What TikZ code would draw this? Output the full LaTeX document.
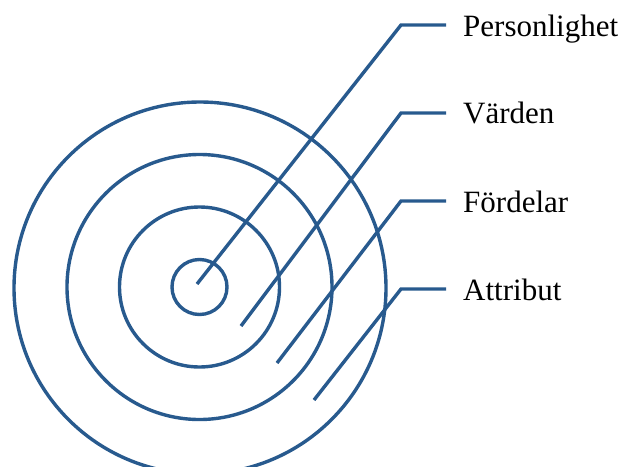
\documentclass[tikz,border=0pt]{standalone}
\usepackage{fontspec}
\setmainfont{Liberation Serif}
\definecolor{ringblue}{RGB}{40,90,142}
\begin{document}
\begin{tikzpicture}[x=1pt,y=-1pt,
  ring/.style={draw=ringblue,line width=3.4pt},
  leader/.style={draw=ringblue,line width=3.4pt},
  lbl/.style={anchor=base west,inner sep=0pt,font=\fontsize{31}{36}\selectfont}]
\useasboundingbox (0,0) rectangle (623,466);
\begin{scope}
\clip (0,0) rectangle (623,466);
\node[ring,circle,minimum size=55pt,inner sep=0pt] (c1) at (199.5,287) {};
\node[ring,circle,minimum size=160pt,inner sep=0pt] (c2) at (199.5,287) {};
\node[ring,circle,minimum size=265pt,inner sep=0pt] (c3) at (199.5,287) {};
\node[ring,circle,minimum size=372pt,inner sep=0pt] (c4) at (200,288) {};
\end{scope}
\node[lbl] (l1) at (463,36) {Personlighet};
\node[lbl] (l2) at (463,123) {Värden};
\node[lbl] (l3) at (463,212) {Fördelar};
\node[lbl] (l4) at (463,300) {Attribut};
\coordinate (s1) at (197,284); \coordinate (b1) at (401,25); \coordinate (e1) at (446,25);
\coordinate (s2) at (241,326); \coordinate (b2) at (401,113); \coordinate (e2) at (446,113);
\coordinate (s3) at (277,363); \coordinate (b3) at (401,201); \coordinate (e3) at (446,201);
\coordinate (s4) at (314,400); \coordinate (b4) at (401,289); \coordinate (e4) at (446,289);
\draw[leader] (s1) -- (b1) -- (e1);
\draw[leader] (s2) -- (b2) -- (e2);
\draw[leader] (s3) -- (b3) -- (e3);
\draw[leader] (s4) -- (b4) -- (e4);
\end{tikzpicture}
\end{document}
